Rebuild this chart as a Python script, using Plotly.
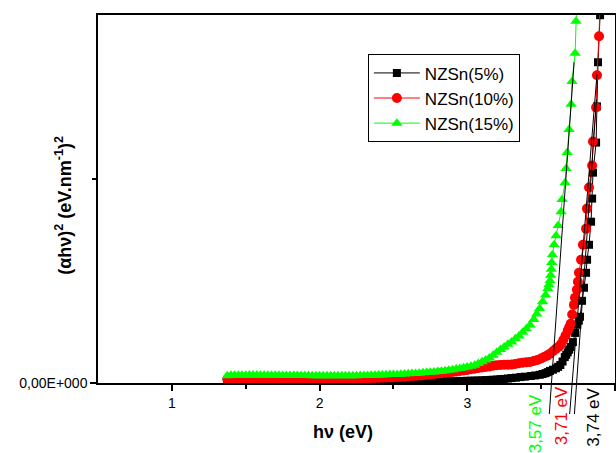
import plotly.graph_objects as go

# Photon energy grid (eV) shared by the three films in the low-absorption region
E_LOW = [1.375, 1.400, 1.425, 1.450, 1.475, 1.500, 1.525, 1.550, 1.575, 1.600,
         1.625, 1.650, 1.675, 1.700, 1.725, 1.750, 1.775, 1.800, 1.825, 1.850,
         1.875, 1.900, 1.925, 1.950, 1.975, 2.000, 2.025, 2.050, 2.075, 2.100,
         2.125, 2.150, 2.175, 2.200, 2.225, 2.250, 2.275, 2.300, 2.325, 2.350,
         2.375, 2.400, 2.425, 2.450, 2.475, 2.500, 2.525, 2.550, 2.575, 2.600,
         2.625, 2.650, 2.675, 2.700, 2.725, 2.750, 2.775, 2.800, 2.825, 2.850,
         2.875, 2.900, 2.925, 2.950, 2.975, 3.000, 3.025, 3.050, 3.075, 3.100]

# (alpha h nu)^2 in the low-energy region, arbitrary units
NZSN5_LOW = [0.004, 0.004, 0.004, 0.004, 0.004, 0.004, 0.004, 0.004, 0.004, 0.004,
             0.004, 0.004, 0.004, 0.004, 0.004, 0.004, 0.004, 0.004, 0.004, 0.004,
             0.004, 0.004, 0.004, 0.004, 0.004, 0.004, 0.004, 0.004, 0.004, 0.004,
             0.004, 0.004, 0.005, 0.005, 0.005, 0.005, 0.005, 0.005, 0.006, 0.006,
             0.006, 0.006, 0.006, 0.006, 0.006, 0.006, 0.007, 0.007, 0.007, 0.007,
             0.007, 0.007, 0.007, 0.008, 0.008, 0.008, 0.008, 0.008, 0.009, 0.009,
             0.009, 0.009, 0.010, 0.010, 0.010, 0.011, 0.011, 0.012, 0.012, 0.013]
NZSN10_LOW = [0.018, 0.018, 0.018, 0.018, 0.019, 0.021, 0.022, 0.022, 0.022, 0.022,
              0.022, 0.022, 0.022, 0.022, 0.022, 0.022, 0.022, 0.022, 0.022, 0.022,
              0.022, 0.022, 0.022, 0.022, 0.022, 0.022, 0.022, 0.022, 0.022, 0.022,
              0.022, 0.022, 0.022, 0.022, 0.023, 0.023, 0.023, 0.024, 0.024, 0.025,
              0.025, 0.026, 0.026, 0.027, 0.027, 0.028, 0.029, 0.030, 0.031, 0.033,
              0.034, 0.035, 0.037, 0.038, 0.040, 0.042, 0.044, 0.046, 0.048, 0.050,
              0.052, 0.054, 0.056, 0.059, 0.061, 0.064, 0.067, 0.070, 0.073, 0.076]
NZSN15_LOW = [0.036, 0.038, 0.038, 0.038, 0.038, 0.038, 0.039, 0.039, 0.039, 0.038,
              0.038, 0.038, 0.038, 0.038, 0.038, 0.037, 0.037, 0.037, 0.037, 0.037,
              0.037, 0.037, 0.037, 0.036, 0.036, 0.036, 0.036, 0.036, 0.036, 0.036,
              0.036, 0.036, 0.036, 0.036, 0.036, 0.036, 0.037, 0.037, 0.037, 0.038,
              0.038, 0.039, 0.039, 0.040, 0.041, 0.041, 0.042, 0.043, 0.044, 0.045,
              0.046, 0.047, 0.048, 0.050, 0.051, 0.053, 0.054, 0.056, 0.058, 0.060,
              0.062, 0.065, 0.068, 0.071, 0.074, 0.078, 0.082, 0.087, 0.095, 0.104]

# Absorption edge of each film
NZSN5_EDGE_E = [3.125, 3.150, 3.175, 3.200, 3.225, 3.250, 3.275, 3.300, 3.330, 3.360,
                3.390, 3.430, 3.460, 3.490, 3.510, 3.530, 3.545, 3.560, 3.580, 3.600,
                3.615, 3.630, 3.645, 3.660, 3.670, 3.680, 3.690, 3.700, 3.715, 3.730,
                3.745, 3.755, 3.763, 3.777, 3.790, 3.804, 3.811, 3.824, 3.838, 3.845,
                3.851, 3.872, 3.878, 3.885, 3.899, 3.905]
NZSN5_EDGE_Y = [0.014, 0.015, 0.016, 0.017, 0.019, 0.020, 0.022, 0.024, 0.026, 0.029,
                0.031, 0.034, 0.037, 0.040, 0.044, 0.048, 0.053, 0.059, 0.065, 0.072,
                0.079, 0.088, 0.105, 0.127, 0.138, 0.150, 0.163, 0.176, 0.200, 0.245,
                0.285, 0.305, 0.324, 0.402, 0.466, 0.539, 0.603, 0.676, 0.789, 0.902,
                1.029, 1.176, 1.353, 1.569, 1.799, 2.000]

NZSN10_EDGE_E = [3.125, 3.150, 3.175, 3.200, 3.225, 3.250, 3.275, 3.300, 3.325, 3.350,
                 3.375, 3.400, 3.425, 3.450, 3.475, 3.500, 3.520, 3.540, 3.560, 3.580,
                 3.600, 3.620, 3.635, 3.650, 3.665, 3.680, 3.690, 3.700, 3.710, 3.722,
                 3.729, 3.742, 3.749, 3.756, 3.770, 3.783, 3.804, 3.810, 3.824, 3.845,
                 3.851, 3.872, 3.878, 3.892, 3.900]
NZSN10_EDGE_Y = [0.078, 0.081, 0.084, 0.087, 0.088, 0.089, 0.089, 0.090, 0.093, 0.097,
                 0.099, 0.101, 0.103, 0.108, 0.113, 0.120, 0.127, 0.134, 0.143, 0.155,
                 0.167, 0.178, 0.190, 0.210, 0.232, 0.256, 0.272, 0.290, 0.335, 0.382,
                 0.417, 0.456, 0.495, 0.539, 0.603, 0.676, 0.755, 0.853, 0.956, 1.064,
                 1.181, 1.348, 1.505, 1.696, 1.900]

NZSN15_EDGE_E = [3.125, 3.150, 3.175, 3.200, 3.225, 3.250, 3.275, 3.300, 3.325, 3.350,
                 3.375, 3.400, 3.425, 3.450, 3.470, 3.490, 3.510, 3.530, 3.545, 3.553,
                 3.560, 3.565, 3.569, 3.572, 3.576, 3.588, 3.601, 3.615, 3.635, 3.642,
                 3.662, 3.669, 3.676, 3.689, 3.703, 3.709, 3.730, 3.736, 3.745]
NZSN15_EDGE_Y = [0.113, 0.122, 0.136, 0.150, 0.164, 0.176, 0.189, 0.201, 0.216, 0.230,
                 0.248, 0.265, 0.284, 0.311, 0.338, 0.365, 0.397, 0.431, 0.461, 0.480,
                 0.500, 0.527, 0.556, 0.590, 0.627, 0.676, 0.720, 0.770, 0.838, 0.897,
                 0.980, 1.049, 1.127, 1.240, 1.363, 1.475, 1.613, 1.770, 1.950]

SERIES_NAMES = ["NZSn(5%)", "NZSn(10%)", "NZSn(15%)"]

# Optical band gaps from the linear extrapolation of each edge
BAND_GAPS = [3.74, 3.71, 3.57]
GAP_LABELS = ["3,74 eV", "3,71 eV", "3,57 eV"]
# Upper end of each extrapolation line (E, (alpha h nu)^2)
FIT_TOP_E = [3.875, 3.878, 3.723]
FIT_TOP_Y = [1.387, 1.510, 1.569]
FIT_BOTTOM_Y = -0.152

X_RANGE = [0.5, 4.0]
Y_RANGE = [0.0, 1.8]
X_TICKS = [1, 2, 3, 4]
X_MINOR = [1.5, 2.5, 3.5]
Y_TICKS = [0.0]
Y_TICKTEXT = ["0,00E+000"]
Y_MINOR = [1.0]

FONT = "Liberation Sans, Arial, sans-serif"
COLORS = ["#000000", "#ff0000", "#00ff00"]
SYMBOLS = ["square", "circle", "triangle-up"]
SIZES = [8, 10, 10]

series = [
    (E_LOW + NZSN5_EDGE_E, NZSN5_LOW + NZSN5_EDGE_Y),
    (E_LOW + NZSN10_EDGE_E, NZSN10_LOW + NZSN10_EDGE_Y),
    (E_LOW + NZSN15_EDGE_E, NZSN15_LOW + NZSN15_EDGE_Y),
]

fig = go.Figure()
for (xs, ys), name, color, symbol, size in zip(series, SERIES_NAMES, COLORS, SYMBOLS, SIZES):
    fig.add_trace(go.Scatter(
        x=xs, y=ys, name=name, mode="lines+markers",
        line=dict(color=color, width=1),
        marker=dict(symbol=symbol, size=size, color=color, line=dict(width=0)),
    ))


def to_paper(y):
    # vertical data value -> paper fraction (y axis fills the full domain)
    return (y - Y_RANGE[0]) / (Y_RANGE[1] - Y_RANGE[0])


# Extrapolation lines, running below the energy axis down to the labels
for eg, xt, yt in zip(BAND_GAPS, FIT_TOP_E, FIT_TOP_Y):
    slope = (xt - eg) / yt
    xb = eg + slope * FIT_BOTTOM_Y
    fig.add_shape(type="line", xref="x", yref="paper",
                  x0=xb, y0=to_paper(FIT_BOTTOM_Y), x1=xt, y1=to_paper(yt),
                  line=dict(color="black", width=1))

# Band-gap labels, written vertically under the axis
LABEL_OFFSETS = [0.112, -0.075, -0.111]
LABEL_Y = [-0.094, -0.090, -0.112]
for eg, text, color, dx, ly in zip(BAND_GAPS, GAP_LABELS, COLORS, LABEL_OFFSETS, LABEL_Y):
    fig.add_annotation(x=eg + dx, y=ly, xref="x", yref="paper", text=text,
                       textangle=-90, showarrow=False, xanchor="center", yanchor="middle",
                       font=dict(family=FONT, size=17, color=color))

# Axis titles
fig.add_annotation(x=0.474, y=-0.133, xref="paper", yref="paper", text="<b>hν (eV)</b>",
                   showarrow=False, xanchor="center", yanchor="middle",
                   font=dict(family=FONT, size=18, color="black"))
fig.add_annotation(x=-0.066, y=0.484, xref="paper", yref="paper",
                   text="<b>(αhν)<sup>2</sup> (eV.nm<sup>-1</sup>)<sup>2</sup></b>",
                   textangle=-90, showarrow=False, xanchor="center", yanchor="middle",
                   font=dict(family=FONT, size=18, color="black"))

axis_common = dict(showgrid=False, zeroline=False, showline=True, linecolor="black",
                   linewidth=1.5, mirror=True, ticks="outside", ticklen=6, tickwidth=1.5,
                   tickcolor="black", automargin=False,
                   tickfont=dict(family=FONT, size=14, color="black"))

fig.update_layout(
    width=616, height=453,
    margin=dict(l=98, r=1, t=15, b=70),
    paper_bgcolor="white", plot_bgcolor="white",
    template="none",
    font=dict(family=FONT, color="black"),
    xaxis=dict(range=X_RANGE, tickmode="array", tickvals=X_TICKS,
               ticktext=[str(v) for v in X_TICKS],
               minor=dict(tickmode="array", tickvals=X_MINOR, ticks="outside", ticklen=4,
                          tickwidth=1.5, tickcolor="black"),
               **axis_common),
    yaxis=dict(range=Y_RANGE, tickmode="array", tickvals=Y_TICKS, ticktext=Y_TICKTEXT,
               minor=dict(tickmode="array", tickvals=Y_MINOR, ticks="outside", ticklen=4,
                          tickwidth=1.5, tickcolor="black"),
               **axis_common),
    legend=dict(x=0.522, y=0.893, xanchor="left", yanchor="top",
                bgcolor="white", bordercolor="black", borderwidth=1,
                font=dict(family=FONT, size=17, color="black"),
                itemwidth=46, tracegroupgap=0),
    showlegend=True,
)

fig.write_html("out.html")
